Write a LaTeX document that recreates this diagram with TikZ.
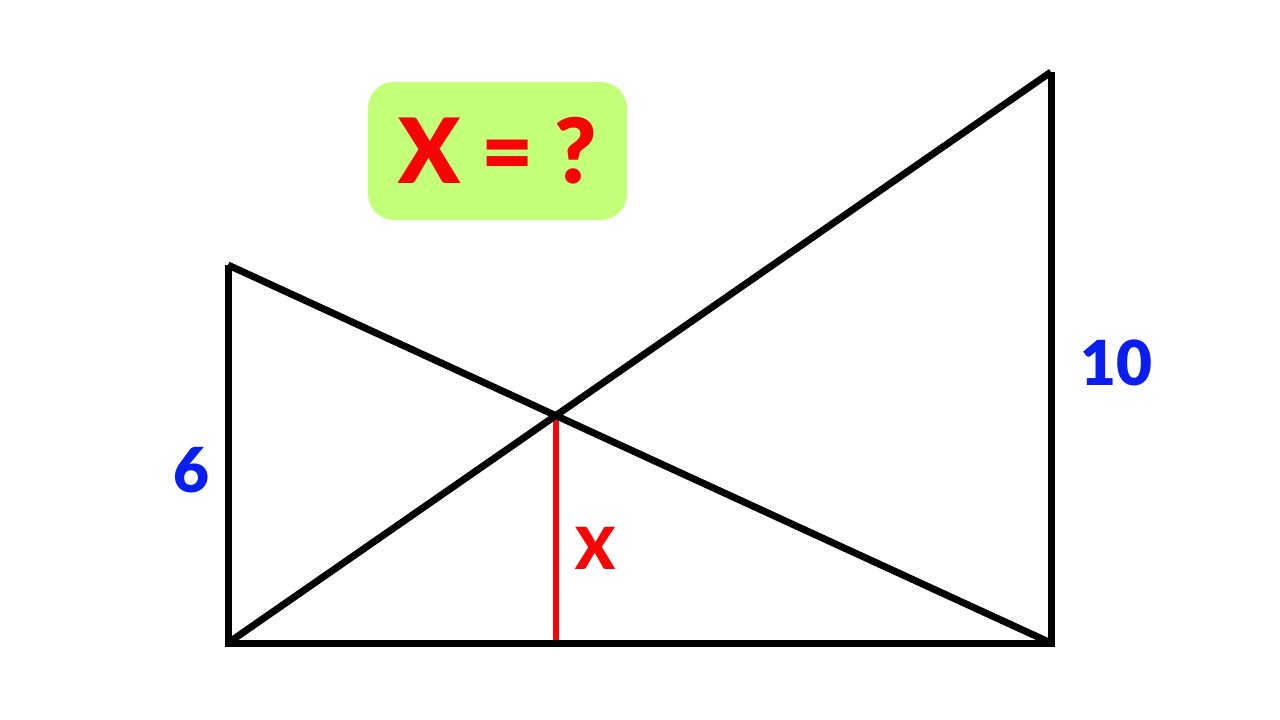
\documentclass[tikz,border=0pt]{standalone}
\usepackage{fontspec}
\setmainfont{Lato}
\newfontfamily\heavy{Lato Black}
\definecolor{boxgreen}{HTML}{C4FF7A}
\definecolor{lblblue}{HTML}{0A1EF0}
\definecolor{xred}{HTML}{F50505}
\begin{document}
\begin{tikzpicture}[x=1pt,y=-1pt,
  edge/.style={line width=7pt,black},
  redline/.style={line width=6pt,xred},
  bluelbl/.style={text=lblblue,font=\fontsize{62}{62}\selectfont\heavy,inner sep=0pt},
  redlbl/.style={text=xred,font=\fontsize{58}{58}\selectfont\heavy,inner sep=0pt}]
\useasboundingbox (0,0) rectangle (1280,720);
\coordinate (A) at (228,643);
\coordinate (D) at (228,265);
\coordinate (B) at (1051,643);
\coordinate (C) at (1051,72);
\coordinate (P) at (556,415.6);
\coordinate (F) at (556,643);
\draw[redline] (P) -- (F);
\draw[edge,line join=miter] (D) -- (A) -- (B) -- (C);
\draw[edge] (D) -- (B);
\draw[edge] (A) -- (C);
\node[fill=boxgreen,rounded corners=26pt,minimum width=259pt,minimum height=138pt,
  text=xred,font=\fontsize{90}{90}\selectfont\heavy,inner sep=0pt] (title) at (497.5,151) {X = ?};
\node[bluelbl] (six) at (191,470) {6};
\node[bluelbl] (ten) at (1116,363) {10};
\node[redlbl] (xl) at (596,548) {X};
\end{tikzpicture}
\end{document}
